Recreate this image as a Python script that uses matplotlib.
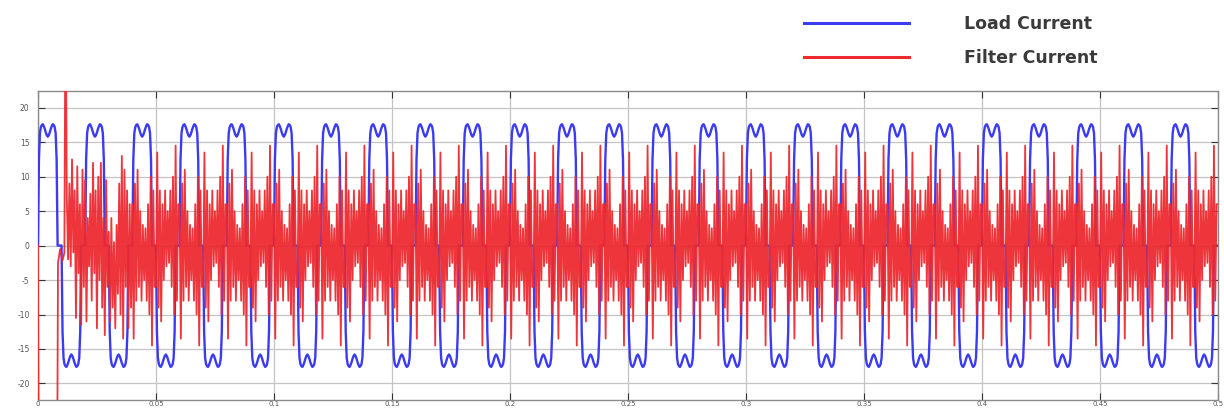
import numpy as np
import matplotlib
matplotlib.use("Agg")
import matplotlib.pyplot as plt
from matplotlib.lines import Line2D

# ---------------- data ----------------
period = 0.02          # s, one mains cycle
n_cycles = 25          # cycles shown (0 .. 0.5 s)

# Load current: one cycle, 48 samples (7.5 deg apart)
load_cycle = [0.0, 12.5, 16.3, 17.2, 17.5, 17.6, 17.3, 16.9, 16.4, 16.0, 15.8,
              16.0, 16.4, 16.9, 17.3, 17.6, 17.5, 17.2, 16.3, 12.5, 0.0, 0.0, 0.0, 0.0,
              0.0, -12.5, -16.3, -17.2, -17.5, -17.6, -17.3, -16.9, -16.4, -16.0, -15.8,
              -16.0, -16.4, -16.9, -17.3, -17.6, -17.5, -17.2, -16.3, -12.5, 0.0, 0.0, 0.0, 0.0]

# Filter current: switch-on transient (explicit times)
filter_on_t = [0.0, 0.0004, 0.0080, 0.0085, 0.0094, 0.0104, 0.0112, 0.0117]
filter_on_v = [0.0, -45.0, -45.0, -2.5, -0.5, -2.2, -1.0, 40.0]

# Filter current: settling part, samples 22..71 of a 36-per-cycle grid
filter_settle = [7, -2, 9, -3, 12.5, -1, 8, -10.5, 11.5, -4,
                 6, -11.5, 11, -6, 9.5, -11, 4, -3, 7.5, -8,
                 12, -4, 8, -12, 10, -5, 12, -9, 4, -13,
                 9.5, -6, 2, -11, 4, -9, 0.5, -12, 3, -7,
                 9, -10, 13, -13.5, 11, -6, 8, -12, 6, -9]
settle_first, settle_last = 22, 72

# Filter current: steady-state cycle, 36 samples (10 deg apart)
filter_cycle = [6, -13.5, 9, -8, 11, -6, 5, -8, 3, -5, 2.5, -8, 6, -10, 10, -14.5, 8, -6,
                -6, 13.5, -9, 8, -11, 6, -5, 8, -3, 5, -2.5, 8, -6, 10, -10, 14.5, -8, 6]

x_ticks = [0, 0.05, 0.1, 0.15, 0.2, 0.25, 0.3, 0.35, 0.4, 0.45, 0.5]
x_labels = ["0", "0.05", "0.1", "0.15", "0.2", "0.25", "0.3", "0.35", "0.4", "0.45", "0.5"]
y_ticks = [-20, -15, -10, -5, 0, 5, 10, 15, 20]
y_labels = ["-20", "-15", "-10", "-5", "0", "5", "10", "15", "20"]

series_names = ["Load Current", "Filter Current"]
series_colors = ["#3b3bf2", "#ec2a30"]

# ---------------- assemble series ----------------
nb = len(load_cycle)
t_load = np.arange(nb * n_cycles + 1) * period / nb
i_load = np.append(np.tile(load_cycle, n_cycles), load_cycle[0])

nr = len(filter_cycle)
t_grid = np.arange(nr * n_cycles + 1) * period / nr
steady = np.append(np.tile(filter_cycle, n_cycles), filter_cycle[0])
t_filt = np.concatenate([filter_on_t, t_grid[settle_first:settle_last], t_grid[settle_last:]])
i_filt = np.concatenate([filter_on_v, filter_settle, steady[settle_last:]])

# ---------------- figure ----------------
fig = plt.figure(figsize=(12.24, 4.08), dpi=100)
ax = fig.add_axes([0.031, 0.0196, 0.964, 0.757])

ax.plot(t_load, i_load, color=series_colors[0], lw=1.7, solid_joinstyle="round", zorder=3)
ax.plot(t_filt, i_filt, color=series_colors[1], lw=1.3, alpha=0.95, zorder=4)

ax.set_xlim(0, 0.5)
ax.set_ylim(-22.4, 22.4)
ax.set_xticks(x_ticks)
ax.set_xticklabels(x_labels)
ax.set_yticks(y_ticks)
ax.set_yticklabels(y_labels)
ax.grid(True, color="#c4c4c4", lw=0.9, zorder=0)
ax.set_axisbelow(True)
ax.tick_params(direction="in", length=5, width=0.8, color="#333333",
               labelsize=5.5, labelcolor="#555555", top=True, right=True)
ax.tick_params(axis="x", pad=0.5, labelsize=5)
ax.tick_params(axis="y", pad=6)
for s in ax.spines.values():
    s.set_color("#8a8a8a")
    s.set_linewidth(1.0)

handles = [Line2D([], [], color=c, lw=2.2) for c in series_colors]
leg = fig.legend(handles, series_names, loc="upper left", bbox_to_anchor=(0.643, 1.006),
                 frameon=False, handlelength=6.0, handletextpad=3.2, labelspacing=0.95,
                 borderpad=0.5, prop={"family": "DejaVu Sans", "size": 12.5, "weight": "bold"})
for txt in leg.get_texts():
    txt.set_color("#3a3a3a")

fig.savefig("out.png", dpi=100)
